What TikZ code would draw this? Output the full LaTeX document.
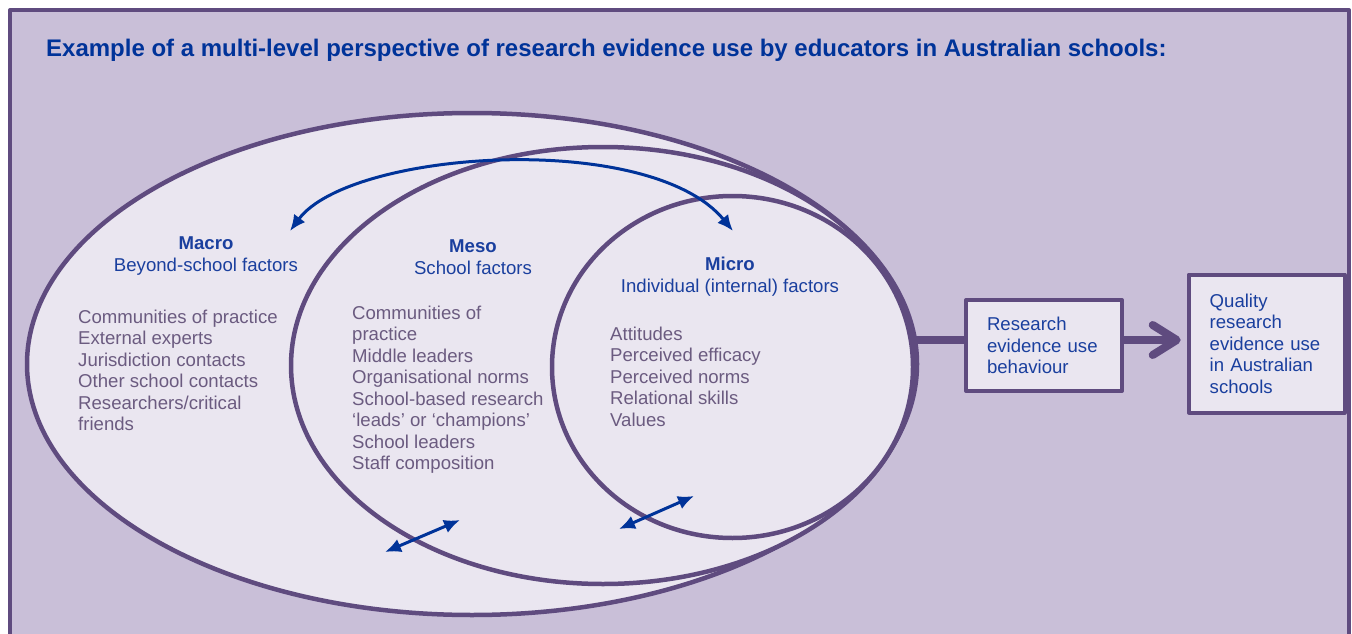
\documentclass[tikz,border=0pt]{standalone}
\usepackage{fontspec}
\setmainfont{Liberation Sans}
\usetikzlibrary{shapes.geometric,arrows.meta}
\definecolor{frame}{HTML}{5F4B7F}
\definecolor{lilac}{HTML}{C9BFD8}
\definecolor{pale}{HTML}{EAE6F0}
\definecolor{navy}{HTML}{003399}
\definecolor{headblue}{HTML}{1A3F9E}
\definecolor{greytext}{HTML}{6B5B80}
\newcommand{\bodyfont}{\fontsize{18.6}{21.5}\selectfont}

\begin{document}
\begin{tikzpicture}[x=1pt, y=-1pt, line join=round, line cap=round,
	ring/.style={ellipse, draw=frame, fill=pale, line width=4.5pt, inner sep=0pt},
	factbox/.style={draw=frame, fill=pale, line width=4pt, minimum width=156pt, minimum height=91pt,
		inner xsep=21pt, text width=114pt, align=left, text=headblue, font=\bodyfont},
	item/.style={anchor=base west, inner sep=0pt, text=greytext, font=\bodyfont},
	head/.style={anchor=base, inner sep=0pt, text=headblue, font=\bodyfont},
	link/.style={draw=frame, line width=8pt, line cap=butt},
	twoway/.style={navy, line width=3pt, line cap=butt, >={Latex[length=16pt,width=14pt]}, <->}]
			\useasboundingbox (0,0) rectangle (1352,634);
			\fill[white] (0,0) rectangle (1352,634);
			\draw[draw=frame, fill=lilac, line width=4pt] (10,10) rectangle (1349,660);
			\node[anchor=base west, inner sep=0pt, text=navy, font=\fontsize{24}{28}\selectfont\bfseries] (title) at (46,57)
				{Example of a multi-level perspective of research evidence use by educators in Australian schools:};
			
			% Ba vòng lồng nhau
			\node[ring, minimum width=890pt, minimum height=502pt] (macro) at (472,364) {};
			\node[ring, minimum width=624pt, minimum height=437pt] (meso) at (603,365.5) {};
			\node[ring, minimum width=361pt, minimum height=342pt] (micro) at (732.5,367) {};
			
			\node[head, font=\bodyfont\bfseries] (macroT) at (206,249) {Macro};
			\node[head] (macroS) at (206,271) {Beyond-school factors};
			\node[head, font=\bodyfont\bfseries] (mesoT) at (473,252) {Meso};
			\node[head] (mesoS) at (473,274) {School factors};
			\node[head, font=\bodyfont\bfseries] (microT) at (730,270) {Micro};
			\node[head] (microS) at (730,292) {Individual (internal) factors};
			
			% Các yếu tố của từng cấp
			\foreach \t [count=\i] in {Communities of practice, External experts, Jurisdiction contacts,
				Other school contacts, Researchers/critical, friends}
				\node[item] (macro\i) at (78,{323+21.5*(\i-1)}) {\t};
			\foreach \t [count=\i] in {Communities of, practice, Middle leaders, Organisational norms,
				School-based research, ‘leads’ or ‘champions’, School leaders, Staff composition}
				\node[item] (meso\i) at (352,{319+21.5*(\i-1)}) {\t};
			\foreach \t [count=\i] in {Attitudes, Perceived efficacy, Perceived norms, Relational skills, Values}
				\node[item] (micro\i) at (610,{340+21.5*(\i-1)}) {\t};
			
			\node[factbox] (behav) at (1044,345.5) {Research\\ evidence use\\ behaviour};
			\node[factbox, minimum height=138pt] (quality) at (1266.7,343.5)
				{Quality\\ research\\ evidence use\\ in Australian\\ schools};
			
			\draw[link, shorten <=-4pt] (macro.east |- 0,340) -- (behav.west |- 0,340);
			\draw[link, shorten >=6pt, -{Straight Barb[length=24pt, width=30pt, round]}]
				(behav.east |- 0,340) -- (quality.west |- 0,340);
			
			% Mũi tên hai chiều
			\coordinate (loopL) at (290,231);  \coordinate (loopR) at (733,231);
			\coordinate (mesoA) at (385,552);  \coordinate (mesoB) at (460,520);
			\coordinate (microA) at (619,529); \coordinate (microB) at (694,496);
			\draw[twoway] (loopL) .. controls (350,150) and (650,130) .. (loopR);
			\draw[twoway] (mesoA) -- (mesoB);
			\draw[twoway] (microA) -- (microB);
			\end{tikzpicture}
\end{document}
